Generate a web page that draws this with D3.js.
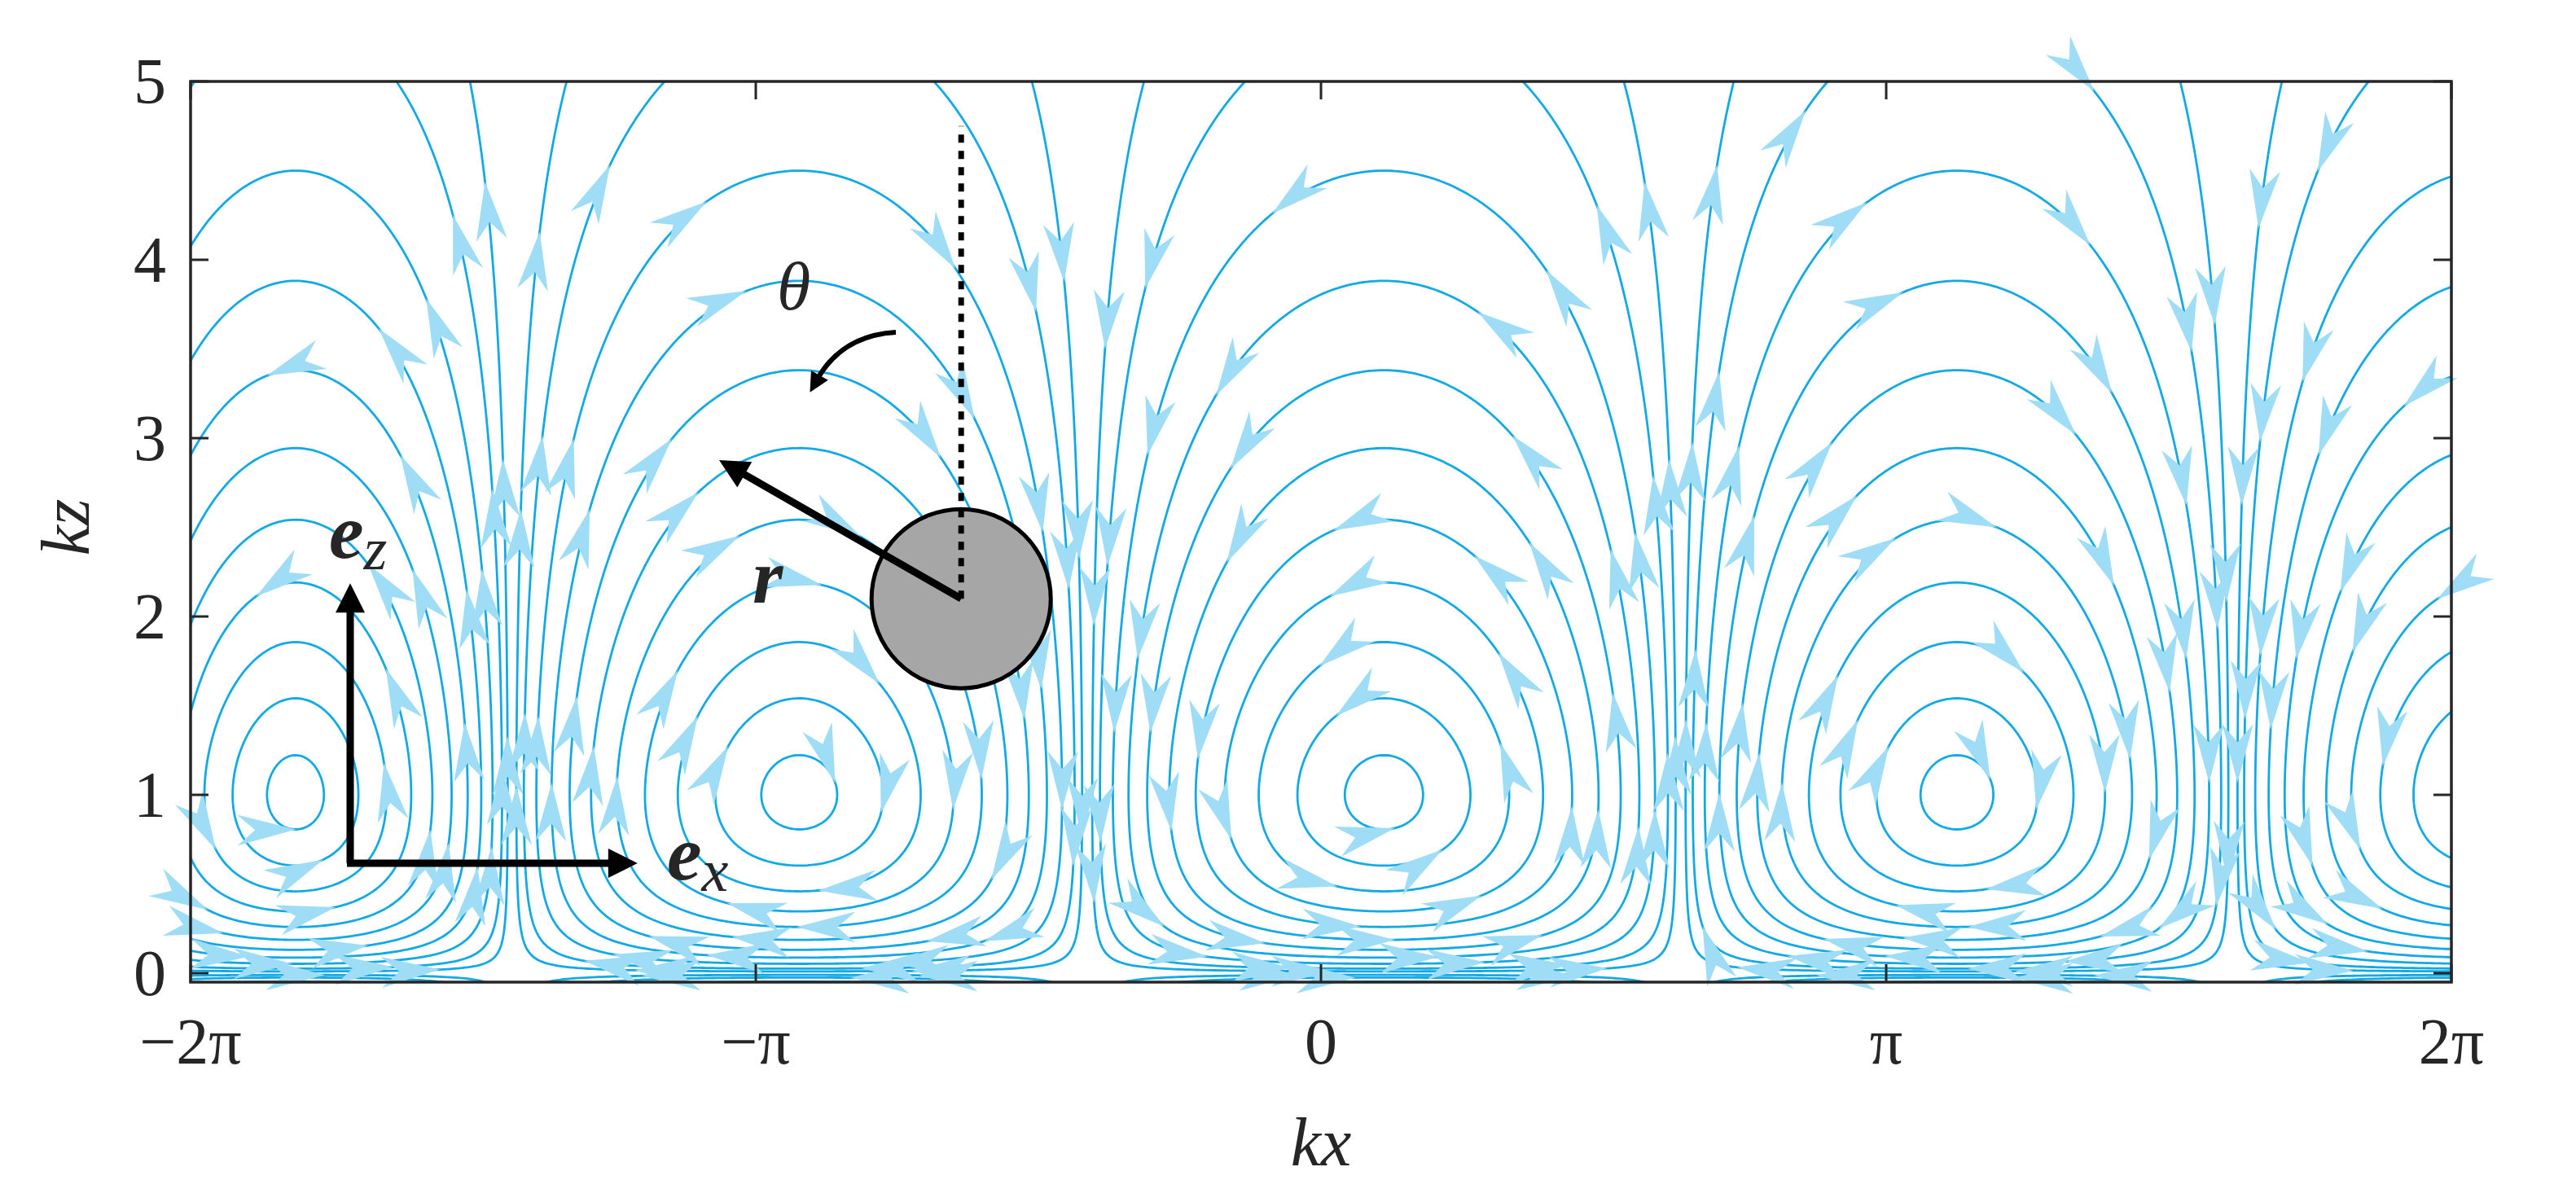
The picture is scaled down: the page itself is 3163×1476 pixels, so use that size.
<!DOCTYPE html>
<meta charset="utf-8">
<style>
  body { margin: 0; background: #fff; }
  text { font-family: "Liberation Serif", "DejaVu Serif", serif; fill: #262626; }
</style>
<svg width="3163" height="1476"></svg>
<script src="https://cdn.jsdelivr.net/npm/d3@7"></script>
<script>
  var PI = Math.PI;

  // axis ticks
  var xTicks = [-2 * PI, -PI, 0, PI, 2 * PI];
  var xTickLabels = ["\u22122\u03c0", "\u2212\u03c0", "0", "\u03c0", "2\u03c0"];
  var zTicks = [0, 1, 2, 3, 4, 5];

  // cell boundaries (kx where the stream function vanishes)
  var cellBounds = [-6.9, -4.5, -1.3, 2.0, 5.07, 7.9];
  // streamline levels of the stream function
  var psiLevels = [-0.36, -0.33, -0.29, -0.245, -0.2, -0.155, -0.115, -0.08, -0.05, -0.025, -0.01,
                   0.01, 0.025, 0.05, 0.08, 0.115, 0.155, 0.2, 0.245, 0.29, 0.33, 0.36];

  // particle and annotation positions (kx, kz)
  var particle = { x: -2.0, z: 2.1 };
  var rTip = { x: -3.35, z: 2.88 };
  var dottedTop = 4.75;

  var svg = d3.select("svg"),
    margin = { top: 100, right: 153, bottom: 270, left: 234 },
    width = 3163 - margin.left - margin.right,
    height = 1476 - margin.top - margin.bottom,
    g = svg.append("g").attr("transform", "translate(" + margin.left + "," + margin.top + ")");

  var xScale = d3.scaleLinear().domain([-2 * PI, 2 * PI]).range([0, width]);
  var zScale = d3.scaleLinear().domain([-0.05, 5]).range([height, 0]);

  // stream function model
  var phase = d3.scaleLinear().domain(cellBounds).range(cellBounds.map(function (_, i) { return i * PI; }));
  function psi(x, z) { return Math.sin(phase(x)) * z * Math.exp(-z); }
  function vel(x, z) {
    var h = 1e-3;
    return [(psi(x, z + h) - psi(x, z - h)) / (2 * h), -(psi(x + h, z) - psi(x - h, z)) / (2 * h)];
  }

  // grid
  var nx = 700, nz = 300, x0 = -7, x1 = 7, z0 = -0.3, z1 = 5.3;
  var dx = (x1 - x0) / (nx - 1), dz = (z1 - z0) / (nz - 1);
  var values = new Array(nx * nz);
  for (var j = 0; j < nz; j++)
    for (var i = 0; i < nx; i++)
      values[i + j * nx] = psi(x0 + i * dx, z0 + j * dz);

  var contours = d3.contours().size([nx, nz]).smooth(true).thresholds(psiLevels)(values);

  svg.append("defs").append("clipPath").attr("id", "clip")
    .append("rect").attr("width", width).attr("height", height);

  var lines = g.append("g").attr("clip-path", "url(#clip)");
  var arrowG = g.append("g");
  var lineGen = d3.line();

  function toScreen(p) {
    var x = x0 + (p[0] - 0.5) * dx, z = z0 + (p[1] - 0.5) * dz;
    return [xScale(x), zScale(z), x, z];
  }

  var arrowShape = "M0,0 L-72,-19 L-50,0 L-72,19 Z";
  var spacing = 340;

  contours.forEach(function (c, ci) {
    c.coordinates.forEach(function (poly) {
      poly.forEach(function (ring) {
        var pts = ring.map(toScreen);
        lines.append("path")
          .attr("d", lineGen(pts.map(function (p) { return [p[0], p[1]]; })))
          .attr("fill", "none")
          .attr("stroke", "#12a9e4")
          .attr("stroke-width", 2.8);
        var acc = spacing * (0.3 + 0.5 * ((ci * 7) % 10) / 10);
        for (var k = 1; k < pts.length; k++) {
          var p = pts[k], q = pts[k - 1];
          var inside = p[0] > 5 && p[0] < width - 5 && p[1] > 5 && p[1] < height - 5;
          if (!inside) continue;
          acc += Math.hypot(p[0] - q[0], p[1] - q[1]);
          if (acc >= spacing) {
            acc = 0;
            var v = vel(p[2], p[3]);
            var sx = v[0] * (xScale(1) - xScale(0)), sy = -(v[1] * (zScale(0) - zScale(1)));
            var ang = Math.atan2(sy, sx) * 180 / PI;
            arrowG.append("path")
              .attr("d", arrowShape)
              .attr("transform", "translate(" + p[0] + "," + p[1] + ") rotate(" + ang + ")")
              .attr("fill", "#9fdcf6");
          }
        }
      });
    });
  });

  // frame and ticks
  g.append("rect").attr("width", width).attr("height", height)
    .attr("fill", "none").attr("stroke", "#262626").attr("stroke-width", 3.5);
  xTicks.forEach(function (t, i) {
    var x = xScale(t);
    g.append("line").attr("x1", x).attr("x2", x).attr("y1", height).attr("y2", height - 22).attr("stroke", "#262626").attr("stroke-width", 3);
    g.append("line").attr("x1", x).attr("x2", x).attr("y1", 0).attr("y2", 22).attr("stroke", "#262626").attr("stroke-width", 3);
    g.append("text").attr("x", x).attr("y", height + 100).attr("text-anchor", "middle")
      .style("font-size", "80px").text(xTickLabels[i]);
  });
  zTicks.forEach(function (t) {
    var y = zScale(t);
    g.append("line").attr("x1", 0).attr("x2", 22).attr("y1", y).attr("y2", y).attr("stroke", "#262626").attr("stroke-width", 3);
    g.append("line").attr("x1", width).attr("x2", width - 22).attr("y1", y).attr("y2", y).attr("stroke", "#262626").attr("stroke-width", 3);
    g.append("text").attr("x", -30).attr("y", y + 27).attr("text-anchor", "end")
      .style("font-size", "80px").text(t);
  });
  g.append("text").attr("x", width / 2).attr("y", height + 225).attr("text-anchor", "middle")
    .style("font-size", "84px").style("font-style", "italic").text("kx");
  g.append("text").attr("transform", "translate(-125," + zScale(2.5) + ") rotate(-90)")
    .attr("text-anchor", "middle").style("font-size", "84px").style("font-style", "italic").text("kz");

  // annotations
  var ann = g.append("g");
  var defs = svg.select("defs");
  defs.append("marker").attr("id", "head").attr("viewBox", "0 0 10 10").attr("refX", 2).attr("refY", 5)
    .attr("markerWidth", 5).attr("markerHeight", 4).attr("orient", "auto").attr("markerUnits", "strokeWidth")
    .append("path").attr("d", "M0,0 L10,5 L0,10 Z").attr("fill", "#000");

  var px = xScale(particle.x), pz = zScale(particle.z);
  ann.append("circle").attr("cx", px).attr("cy", pz).attr("r", 110)
    .attr("fill", "#a6a6a6").attr("stroke", "#000").attr("stroke-width", 5);
  ann.append("line").attr("x1", px).attr("x2", px).attr("y1", pz).attr("y2", zScale(dottedTop))
    .attr("stroke", "#000").attr("stroke-width", 7).attr("stroke-dasharray", "10,10");
  var tx = xScale(rTip.x), tz = zScale(rTip.z);
  var ang = Math.atan2(tz - pz, tx - px);
  ann.append("line").attr("x1", px).attr("y1", pz)
    .attr("x2", tx - 30 * Math.cos(ang)).attr("y2", tz - 30 * Math.sin(ang))
    .attr("stroke", "#000").attr("stroke-width", 9).attr("marker-end", "url(#head)");

  // theta curved arrow
  ann.append("path").attr("d", "M866,308 Q800,312 770,365")
    .attr("fill", "none").attr("stroke", "#000").attr("stroke-width", 6).attr("marker-end", "url(#head)");
  ann.append("text").attr("x", 720).attr("y", 280).style("font-size", "84px").style("font-style", "italic").text("\u03b8");
  ann.append("text").attr("x", 690).attr("y", 640).style("font-size", "96px").style("font-style", "italic").style("font-weight", "bold").text("r");

  // basis vectors
  var ox = 196, oz = 960;
  ann.append("line").attr("x1", ox).attr("y1", oz).attr("x2", ox).attr("y2", 645)
    .attr("stroke", "#000").attr("stroke-width", 9).attr("marker-end", "url(#head)");
  ann.append("line").attr("x1", ox - 4).attr("y1", oz).attr("x2", 520).attr("y2", oz)
    .attr("stroke", "#000").attr("stroke-width", 9).attr("marker-end", "url(#head)");
  var ez = ann.append("text").attr("x", 170).attr("y", 585).style("font-size", "96px");
  ez.append("tspan").style("font-style", "italic").style("font-weight", "bold").text("e");
  ez.append("tspan").style("font-style", "italic").style("font-size", "74px").attr("dy", 14).text("z");
  var ex = ann.append("text").attr("x", 585).attr("y", 980).style("font-size", "96px");
  ex.append("tspan").style("font-style", "italic").style("font-weight", "bold").text("e");
  ex.append("tspan").style("font-style", "italic").style("font-size", "74px").attr("dy", 14).text("x");
</script>
